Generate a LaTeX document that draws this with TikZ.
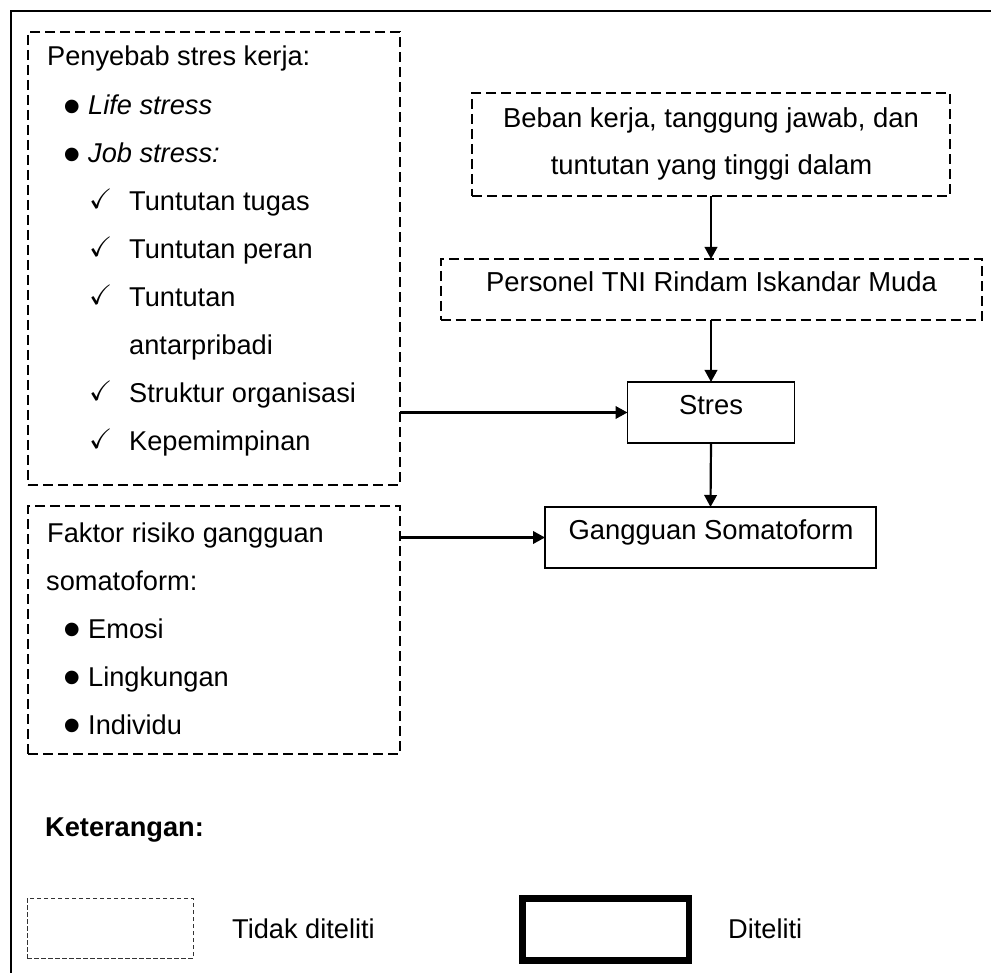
\documentclass[tikz,border=0pt]{standalone}
\usepackage{fontspec}
\usepackage{amssymb}
\setmainfont{Liberation Sans}
\usetikzlibrary{arrows.meta}
\begin{document}
\begin{tikzpicture}[x=1pt,y=-1pt,
  dbox/.style={draw, line width=2pt, dash pattern=on 10pt off 5pt, inner sep=0pt, outer sep=0pt},
  sbox/.style={draw, line width=1.6pt, inner sep=0pt, outer sep=0pt},
  arr/.style={line width=2.2pt, -{Triangle[length=12pt,width=12.5pt]}},
  lt/.style={anchor=base west, inner sep=0pt, font=\fontsize{27.2}{32}\selectfont},
  rt/.style={anchor=base, inner sep=0pt, font=\fontsize{27.4}{32}\selectfont},
  bul/.style={anchor=base, inner sep=0pt, font=\fontsize{50}{50}\selectfont},
  chk/.style={anchor=base west, inner sep=0pt, font=\fontsize{28}{30}\selectfont}
]
\useasboundingbox (0,0) rectangle (991,973);
% outer frame
\draw[line width=2pt] (11,973) -- (11,11) -- (991,11);

% left boxes
\node[dbox, minimum width=372pt, minimum height=453pt] (box1) at (214,258.5) {};
\node[dbox, minimum width=372pt, minimum height=248pt] (box2) at (214,630) {};

\node[lt] (t1) at (47,66) {Penyebab stres kerja:};
\node[bul] (b1) at (72,123.5) {•};
\node[lt] (t2) at (88,115) {\itshape Life stress};
\node[bul] (b2) at (72,171.5) {•};
\node[lt] (t3) at (88,163) {\itshape Job stress:};
\node[chk] (c1) at (89,209) {$\checkmark$};
\node[lt] (t4) at (129,211) {Tuntutan tugas};
\node[chk] (c2) at (89,257) {$\checkmark$};
\node[lt] (t5) at (129,259) {Tuntutan peran};
\node[chk] (c3) at (89,305) {$\checkmark$};
\node[lt] (t6) at (129,307) {Tuntutan};
\node[lt] (t7) at (129,355) {antarpribadi};
\node[chk] (c4) at (89,401) {$\checkmark$};
\node[lt] (t8) at (129,403) {Struktur organisasi};
\node[chk] (c5) at (89,449) {$\checkmark$};
\node[lt] (t9) at (129,451) {Kepemimpinan};

\node[lt] (f1) at (47,542) {Faktor risiko gangguan};
\node[lt] (f2) at (46,590) {somatoform:};
\node[bul] (b3) at (72,646.5) {•};
\node[lt] (f3) at (88,638) {Emosi};
\node[bul] (b4) at (72,694.5) {•};
\node[lt] (f4) at (88,686) {Lingkungan};
\node[bul] (b5) at (72,742.5) {•};
\node[lt] (f5) at (88,734) {Individu};

% right boxes
\node[dbox, minimum width=478pt, minimum height=103pt] (beban) at (711,144.5) {};
\node[rt] (bt1) at (711,128) {Beban kerja, tanggung jawab, dan};
\node[rt] (bt2) at (711.5,175) {tuntutan yang tinggi dalam};

\node[dbox, minimum width=541pt, minimum height=61pt] (personel) at (711,289.5) {};
\node[rt] (pt) at (711.5,292) {Personel TNI Rindam Iskandar Muda};

\node[sbox, minimum width=167pt, minimum height=61pt] (stres) at (711,412.5) {};
\node[rt] (st) at (711,415) {Stres};

\node[sbox, minimum width=331pt, minimum height=61pt] (gangguan) at (710.5,537.5) {};
\node[rt] (gt) at (711,539) {Gangguan Somatoform};

% connectors
\draw[arr] (beban.south) -- (personel.north);
\draw[arr] (personel.south) -- (stres.north);
\draw[arr] (stres.south) -- (gangguan.north);
\draw[arr] (box1.east |- stres.west) -- (stres.west);
\draw[arr] (box2.east |- gangguan.west) -- (gangguan.west);

% legend
\node[lt, font=\bfseries\fontsize{27.2}{32}\selectfont] (ket) at (45,836) {Keterangan:};
\node[draw=black!80, line width=1pt, dash pattern=on 4.5pt off 2.5pt, minimum width=166pt, minimum height=60pt, inner sep=0pt] (legd) at (110,928) {};
\node[lt] (ltd) at (232,938) {Tidak diteliti};
\node[draw, line width=6.5pt, minimum width=166.5pt, minimum height=62pt, inner sep=0pt] (legs) at (605.75,929.5) {};
\node[lt] (lds) at (728,938) {Diteliti};
\end{tikzpicture}
\end{document}
